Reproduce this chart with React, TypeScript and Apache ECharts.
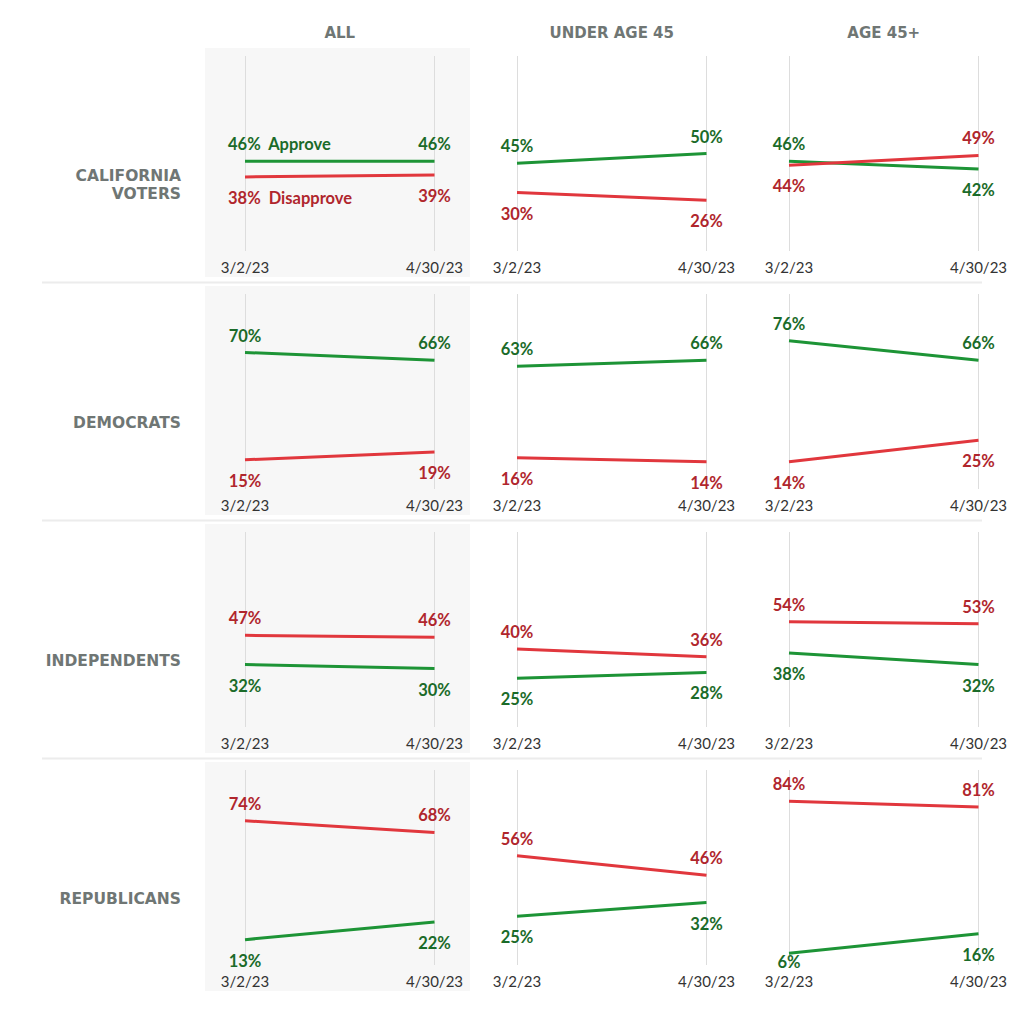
import React, { useEffect, useRef } from "react";
import * as echarts from "echarts";

const dates = ["3/2/23", "4/30/23"];
const groups = ["ALL", "UNDER AGE 45", "AGE 45+"];
const segments = ["CALIFORNIA\nVOTERS", "DEMOCRATS", "INDEPENDENTS", "REPUBLICANS"];

// [row][col][date]
const approve = [
  [[46, 46], [45, 50], [46, 42]],
  [[70, 66], [63, 66], [76, 66]],
  [[32, 30], [25, 28], [38, 32]],
  [[13, 22], [25, 32], [6, 16]],
];
const disapprove = [
  [[38, 39], [30, 26], [44, 49]],
  [[15, 19], [16, 14], [14, 25]],
  [[47, 46], [40, 36], [54, 53]],
  [[74, 68], [56, 46], [84, 81]],
];

const GREEN_LINE = "#1d9436";
const GREEN_TEXT = "#1b6b29";
const RED_LINE = "#e1373d";
const RED_TEXT = "#b0262d";
const GRAY = "#6f7674";
const FONT = "Lato";

const colLeft = [245, 517, 789];
const colWidth = 189.5;
const rowTop = (r: number) => 56 + r * 238;
const gridH = 195;
const pxPerPt = gridH / 100;

export default function App() {
  const ref = useRef<HTMLDivElement>(null);
  useEffect(() => {
    if (!ref.current) return;
    const chart = echarts.init(ref.current, null, { renderer: "svg" });
    const grid: any[] = [];
    const xAxis: any[] = [];
    const yAxis: any[] = [];
    const series: any[] = [];
    const graphic: any[] = [];

    for (let r = 0; r < 4; r++) {
      graphic.push({
        type: "rect",
        z: -10,
        shape: { x: 205, y: 48 + r * 238, width: 265, height: 229 },
        style: { fill: "#f7f7f7" },
      });
      if (r > 0) {
        graphic.push({
          type: "line",
          shape: { x1: 42, y1: 282.5 + (r - 1) * 238, x2: 982, y2: 282.5 + (r - 1) * 238 },
          style: { stroke: "#ececec", lineWidth: 2 },
        });
      }
      graphic.push({
        type: "text",
        x: 181,
        y: rowTop(r) + 129,
        style: {
          text: segments[r],
          font: `bold 15.5px "DejaVu Sans"`,
          fill: GRAY,
          align: "right",
          verticalAlign: "middle",
          lineHeight: 18,
        },
      });
      for (let c = 0; c < 3; c++) {
        const idx = r * 3 + c;
        grid.push({ left: colLeft[c], top: rowTop(r), width: colWidth, height: gridH });
        xAxis.push({
          type: "category",
          gridIndex: idx,
          data: dates,
          boundaryGap: false,
          axisLine: { show: false },
          axisTick: { show: false },
          axisLabel: { color: "#333", fontFamily: FONT, fontSize: 15, margin: 8 },
          splitLine: { show: true, lineStyle: { color: "#dddddd", width: 1 } },
        });
        yAxis.push({
          type: "value",
          gridIndex: idx,
          min: 0,
          max: 100,
          show: false,
          splitLine: { show: false },
        });
        const a = approve[r][c];
        const d = disapprove[r][c];
        const mk = (vals: number[], other: number[], name: string, textColor: string) =>
          vals.map((v, i) => {
            const top = v >= other[i];
            // keep low labels clear of the date labels
            const bottomDist = Math.min(12, Math.max(0, v * pxPerPt - 12));
            const lab: any = {
              show: true,
              position: top ? "top" : "bottom",
              distance: top ? 8 : bottomDist,
              color: textColor,
              fontFamily: FONT,
              fontWeight: "bold",
              fontSize: 16.5,
              formatter: `${v}%`,
            };
            if (r === 0 && c === 0 && i === 0) {
              lab.align = "left";
              lab.offset = [-17, 0];
              lab.formatter = `${v}%  ${name}`;
            }
            return { value: v, label: lab };
          });
        series.push({
          type: "line",
          name: "Approve",
          xAxisIndex: idx,
          yAxisIndex: idx,
          data: mk(a, d, "Approve", GREEN_TEXT),
          symbol: "circle",
          symbolSize: 1,
          itemStyle: { color: "rgba(0,0,0,0)" },
          lineStyle: { color: GREEN_LINE, width: 3 },
          emphasis: { disabled: true },
          z: 3,
        });
        series.push({
          type: "line",
          name: "Disapprove",
          xAxisIndex: idx,
          yAxisIndex: idx,
          data: mk(d, a, "Disapprove", RED_TEXT),
          symbol: "circle",
          symbolSize: 1,
          itemStyle: { color: "rgba(0,0,0,0)" },
          lineStyle: { color: RED_LINE, width: 3 },
          emphasis: { disabled: true },
          z: 4,
        });
      }
    }
    for (let c = 0; c < 3; c++) {
      graphic.push({
        type: "text",
        x: colLeft[c] + colWidth / 2,
        y: 33,
        style: {
          text: groups[c],
          font: `bold 15px "DejaVu Sans"`,
          fill: GRAY,
          align: "center",
          verticalAlign: "middle",
        },
      });
    }

    chart.setOption({
      animation: false,
      backgroundColor: "#ffffff",
      grid,
      xAxis,
      yAxis,
      series,
      graphic: { elements: graphic },
    });
    return () => chart.dispose();
  }, []);
  return (
    <div
      ref={ref}
      style={{ position: "absolute", left: 0, top: 0, width: 1024, height: 1024 }}
    />
  );
}
